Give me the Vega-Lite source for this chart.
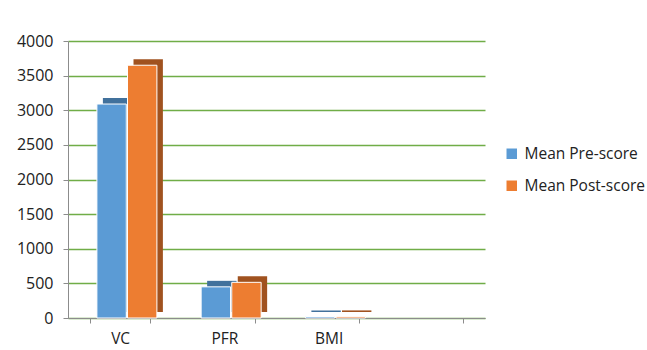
{
  "$schema": "https://vega.github.io/schema/vega-lite/v6.json",
  "autosize": "none",
  "width": 417,
  "height": 277,
  "padding": {"left": 68, "top": 41, "right": 162, "bottom": 32},
  "background": "white",
  "config": {
    "view": {"stroke": null},
    "font": "Open Sans"
  },
  "data": {
    "values": [
      {"category": "VC", "series": "Mean Pre-score", "value": 3090},
      {"category": "VC", "series": "Mean Post-score", "value": 3650},
      {"category": "PFR", "series": "Mean Pre-score", "value": 450},
      {"category": "PFR", "series": "Mean Post-score", "value": 515},
      {"category": "BMI", "series": "Mean Pre-score", "value": 22},
      {"category": "BMI", "series": "Mean Post-score", "value": 23}
    ]
  },
  "encoding": {
    "x": {
      "field": "category",
      "type": "nominal",
      "scale": {"domain": ["VC", "PFR", "BMI", " "], "paddingInner": 0.42, "paddingOuter": 0.21},
      "sort": null,
      "axis": {
        "title": null,
        "labelAngle": 0,
        "tickBand": "extent",
        "domainColor": "#8c8c8c",
        "tickColor": "#8c8c8c",
        "tickSize": 5,
        "labelFontSize": 15.5,
        "labelColor": "#222",
        "labelPadding": 8,
        "labelFont": "Open Sans"
      }
    },
    "y": {
      "field": "value",
      "type": "quantitative",
      "scale": {"domain": [0, 4000]},
      "axis": {
        "title": null,
        "format": "d",
        "values": [0, 500, 1000, 1500, 2000, 2500, 3000, 3500, 4000],
        "gridColor": "#70AD47",
        "gridWidth": 1.3,
        "domainColor": "#8c8c8c",
        "tickColor": "#8c8c8c",
        "tickSize": 5,
        "labelFontSize": 16,
        "labelColor": "#222",
        "labelPadding": 10,
        "labelFont": "Open Sans"
      }
    }
  },
  "layer": [
    {
      "mark": {"type": "bar", "yOffset": -6},
      "encoding": {
        "xOffset": {"field": "series", "type": "nominal", "sort": ["Mean Pre-score", "Mean Post-score"], "scale": {"paddingInner": 0.04, "range": [13, 73]}},
        "fill": {
          "field": "series",
          "type": "nominal",
          "scale": {"domain": ["Mean Pre-score", "Mean Post-score"], "range": ["#41719C", "#A0521F"]},
          "legend": null
        }
      }
    },
    {
      "mark": {"type": "bar", "stroke": "white", "strokeWidth": 1},
      "encoding": {
        "xOffset": {"field": "series", "type": "nominal", "sort": ["Mean Pre-score", "Mean Post-score"], "scale": {"paddingInner": 0.04, "range": [7, 67]}},
        "fill": {
          "field": "series",
          "type": "nominal",
          "scale": {"domain": ["Mean Pre-score", "Mean Post-score"], "range": ["#5B9BD5", "#ED7D31"]},
          "legend": {
            "title": null,
            "orient": "none",
            "legendX": 436,
            "legendY": 105,
            "symbolType": "square",
            "symbolSize": 110,
            "symbolStrokeWidth": 0,
            "labelFontSize": 15.5,
            "labelColor": "#222",
            "labelFont": "Open Sans",
            "rowPadding": 15,
            "labelOffset": 5
          }
        }
      }
    }
  ],
  "resolve": {"scale": {"fill": "independent", "xOffset": "independent"}, "legend": {"fill": "independent"}}
}
